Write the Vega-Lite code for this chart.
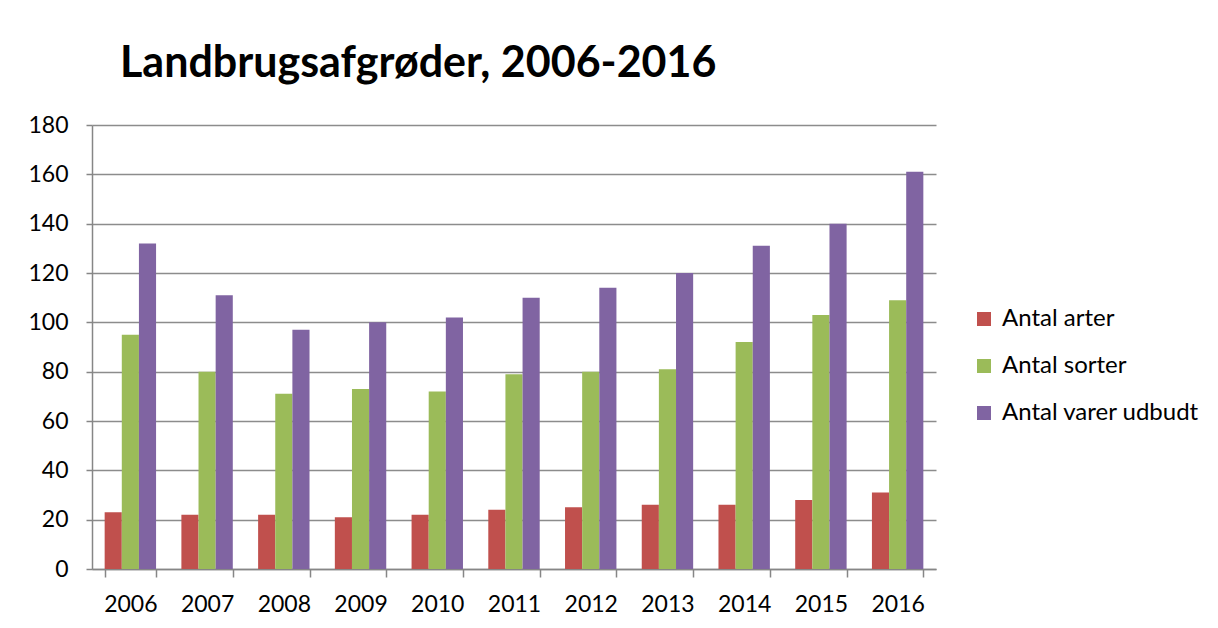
{
  "$schema": "https://vega.github.io/schema/vega-lite/v6.json",
  "width": 844,
  "height": 444,
  "autosize": {"type": "none"},
  "padding": {"left": 92, "top": 125, "right": 282, "bottom": 59},
  "background": "white",
  "title": {
    "text": "Landbrugsafgrøder, 2006-2016",
    "anchor": "start",
    "frame": "group",
    "dx": 28,
    "offset": 28,
    "font": "Lato",
    "fontSize": 43,
    "fontWeight": "bold",
    "color": "black"
  },
  "data": {
    "values": [
      {"year": "2006", "series": "Antal arter", "value": 23},
      {"year": "2007", "series": "Antal arter", "value": 22},
      {"year": "2008", "series": "Antal arter", "value": 22},
      {"year": "2009", "series": "Antal arter", "value": 21},
      {"year": "2010", "series": "Antal arter", "value": 22},
      {"year": "2011", "series": "Antal arter", "value": 24},
      {"year": "2012", "series": "Antal arter", "value": 25},
      {"year": "2013", "series": "Antal arter", "value": 26},
      {"year": "2014", "series": "Antal arter", "value": 26},
      {"year": "2015", "series": "Antal arter", "value": 28},
      {"year": "2016", "series": "Antal arter", "value": 31},
      {"year": "2006", "series": "Antal sorter", "value": 95},
      {"year": "2007", "series": "Antal sorter", "value": 80},
      {"year": "2008", "series": "Antal sorter", "value": 71},
      {"year": "2009", "series": "Antal sorter", "value": 73},
      {"year": "2010", "series": "Antal sorter", "value": 72},
      {"year": "2011", "series": "Antal sorter", "value": 79},
      {"year": "2012", "series": "Antal sorter", "value": 80},
      {"year": "2013", "series": "Antal sorter", "value": 81},
      {"year": "2014", "series": "Antal sorter", "value": 92},
      {"year": "2015", "series": "Antal sorter", "value": 103},
      {"year": "2016", "series": "Antal sorter", "value": 109},
      {"year": "2006", "series": "Antal varer udbudt", "value": 132},
      {"year": "2007", "series": "Antal varer udbudt", "value": 111},
      {"year": "2008", "series": "Antal varer udbudt", "value": 97},
      {"year": "2009", "series": "Antal varer udbudt", "value": 100},
      {"year": "2010", "series": "Antal varer udbudt", "value": 102},
      {"year": "2011", "series": "Antal varer udbudt", "value": 110},
      {"year": "2012", "series": "Antal varer udbudt", "value": 114},
      {"year": "2013", "series": "Antal varer udbudt", "value": 120},
      {"year": "2014", "series": "Antal varer udbudt", "value": 131},
      {"year": "2015", "series": "Antal varer udbudt", "value": 140},
      {"year": "2016", "series": "Antal varer udbudt", "value": 161}
    ]
  },
  "mark": {"type": "bar"},
  "encoding": {
    "x": {
      "field": "year",
      "type": "nominal",
      "scale": {"paddingInner": 0.33, "paddingOuter": 0.165},
      "axis": {
        "title": null,
        "labelAngle": 0,
        "tickBand": "extent",
        "tickSize": 8,
        "labelPadding": 16,
        "labelFontSize": 23,
        "labelFont": "Lato",
        "labelColor": "black",
        "domainColor": "#868686",
        "domainWidth": 1.5,
        "tickColor": "#868686",
        "tickWidth": 1.5,
        "grid": false
      }
    },
    "xOffset": {"field": "series", "type": "nominal"},
    "y": {
      "field": "value",
      "type": "quantitative",
      "scale": {"domain": [0, 180], "nice": false},
      "axis": {
        "title": null,
        "values": [0, 20, 40, 60, 80, 100, 120, 140, 160, 180],
        "tickSize": 6,
        "labelPadding": 18,
        "labelFontSize": 23,
        "labelFont": "Lato",
        "labelColor": "black",
        "domainColor": "#868686",
        "domainWidth": 1.5,
        "tickColor": "#868686",
        "tickWidth": 1.5,
        "gridColor": "#8c8c8c",
        "gridWidth": 1.6
      }
    },
    "color": {
      "field": "series",
      "type": "nominal",
      "scale": {
        "domain": ["Antal arter", "Antal sorter", "Antal varer udbudt"],
        "range": ["#C0504D", "#9BBB59", "#8064A2"]
      },
      "legend": {
        "title": null,
        "orient": "none",
        "legendX": 880,
        "legendY": 182,
        "symbolType": "square",
        "symbolSize": 196,
        "symbolStrokeWidth": 0,
        "labelFontSize": 24,
        "labelFont": "Lato",
        "labelColor": "black",
        "labelOffset": 6,
        "rowPadding": 23,
        "labelLimit": 400
      }
    }
  },
  "config": {
    "view": {"stroke": null}
  }
}
